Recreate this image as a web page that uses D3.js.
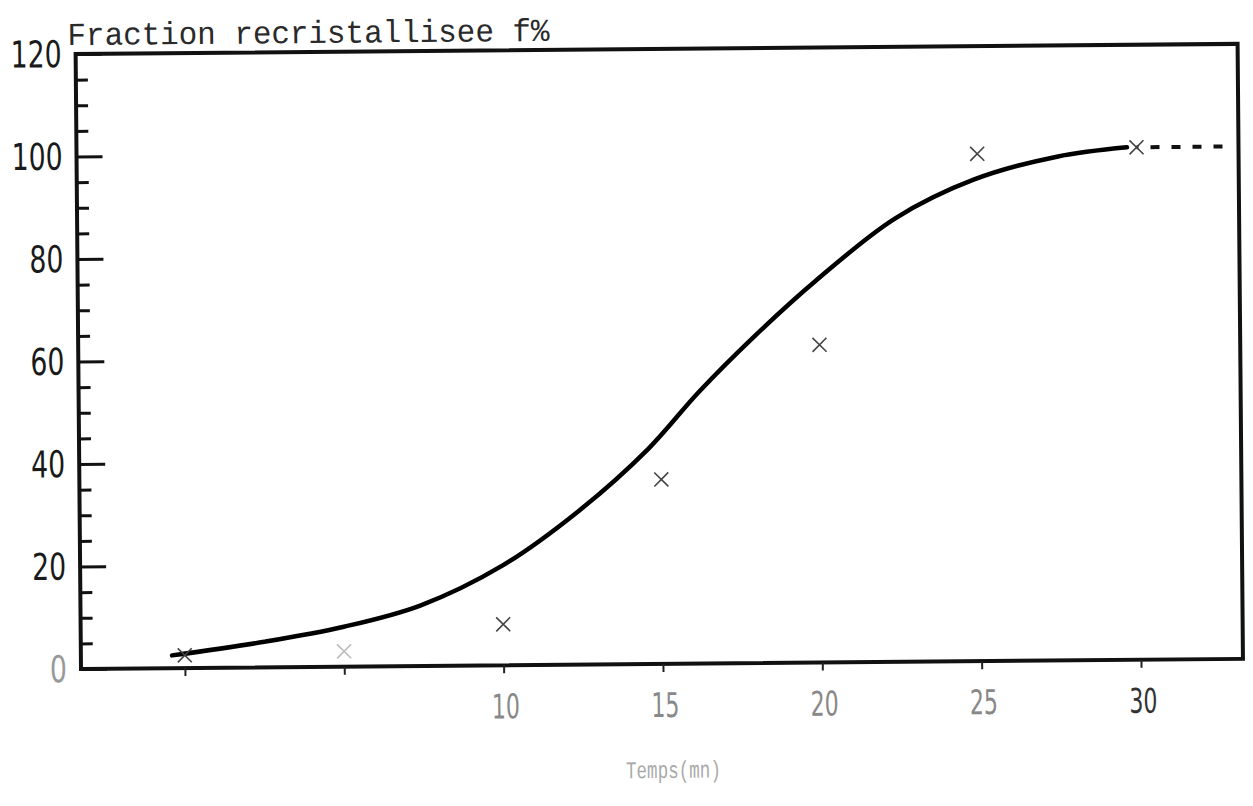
<!DOCTYPE html>
<html>
<head>
<meta charset="utf-8">
<script src="https://cdn.jsdelivr.net/npm/d3@7"></script>
<style>
  body { margin: 0; background: #fff; }
  .axis-label { font-family: "DejaVu Sans Condensed", "Liberation Sans", sans-serif; }
  .mono { font-family: "Liberation Mono", "DejaVu Sans Mono", monospace; }
</style>
</head>
<body>
<svg id="chart" width="1253" height="806"></svg>
<script>
// measured points (time in mn, recrystallised fraction in %)
var pointT = [0, 5, 10, 15, 20, 25, 30];
var pointF = [2.5, 3, 8, 36, 62, 99, 100];

// hand drawn fit curve
var curveT = [-0.4, 2.5, 5, 7.4, 10, 12.4, 14.6, 16.2, 18, 19.9, 22.4, 24.9, 27.5, 29.7];
var curveF = [2.5, 5, 7.8, 11.8, 19.5, 30, 42, 53, 64, 74.5, 86.5, 94, 98.3, 100];

// dashed plateau after the last point
var plateauT = [30, 33];
var plateauF = [100, 100];

var yTicks = [0, 20, 40, 60, 80, 100, 120];
var xTicks = [0, 5, 10, 15, 20, 25, 30];
var xLabels = [10, 15, 20, 25, 30];

var svg = d3.select('#chart');

var x = d3.scaleLinear().domain([-3.26, 33.2]).range([81, 1243]);
var y = d3.scaleLinear().domain([0, 120]).range([669, 54]);

// the scanned sheet is a little tilted
var g = svg.append('g').attr('transform', 'rotate(-0.5, 81, 669)');

//frame
g.append('rect')
    .attr('x', x.range()[0])
    .attr('y', y.range()[1])
    .attr('width', x.range()[1] - x.range()[0])
    .attr('height', y.range()[0] - y.range()[1])
    .attr('fill', 'none')
    .attr('stroke', '#111')
    .attr('stroke-width', 4);

//y axis: ticks inside, minor every 5
var yAxis = d3.axisRight(y)
    .tickValues(d3.range(0, 121, 5))
    .tickSize(12)
    .tickFormat('');
g.append('g')
    .attr('transform', 'translate(' + x.range()[0] + ',0)')
    .call(yAxis)
    .call(function(ax) {
        ax.select('.domain').remove();
        ax.selectAll('.tick line')
            .attr('stroke', '#111')
            .attr('stroke-width', 3)
            .attr('x2', function(d) { return d % 20 === 0 ? 26 : 12; });
    });

g.append('g')
    .selectAll('text')
    .data(yTicks)
    .join('text')
    .attr('class', 'axis-label')
    .attr('x', 67)
    .attr('y', function(d) { return y(d) + 13; })
    .attr('text-anchor', 'end')
    .attr('font-size', 37)
    .attr('textLength', function(d) { return String(d).length * 17; })
    .attr('lengthAdjust', 'spacingAndGlyphs')
    .attr('fill', function(d) { return d === 0 ? '#999' : '#1a1a1a'; })
    .text(function(d) { return d; });

//x axis: small ticks below
var xAxis = d3.axisBottom(x)
    .tickValues(xTicks)
    .tickSize(8)
    .tickFormat('');
g.append('g')
    .attr('transform', 'translate(0,' + y.range()[0] + ')')
    .call(xAxis)
    .call(function(ax) {
        ax.select('.domain').remove();
        ax.selectAll('.tick line').attr('stroke', '#222').attr('stroke-width', 2);
    });

g.append('g')
    .selectAll('text')
    .data(xLabels)
    .join('text')
    .attr('class', 'axis-label')
    .attr('x', function(d) { return x(d) - 12; })
    .attr('y', 722)
    .attr('font-size', 34)
    .attr('textLength', 28)
    .attr('lengthAdjust', 'spacingAndGlyphs')
    .attr('fill', function(d) { return d === 30 ? '#333' : '#888'; })
    .text(function(d) { return d; });

//titles
g.append('text')
    .attr('class', 'mono')
    .attr('x', 73)
    .attr('y', 45)
    .attr('font-size', 32)
    .attr('textLength', 482)
    .attr('lengthAdjust', 'spacingAndGlyphs')
    .attr('fill', '#2a2a2a')
    .text('Fraction recristallisee f%');

g.append('text')
    .attr('class', 'mono')
    .attr('x', 625)
    .attr('y', 783)
    .attr('font-size', 24)
    .attr('textLength', 95)
    .attr('lengthAdjust', 'spacingAndGlyphs')
    .attr('fill', '#aaa')
    .text('Temps(mn)');

//curve
var line = d3.line()
    .x(function(d) { return x(d[0]); })
    .y(function(d) { return y(d[1]); })
    .curve(d3.curveCatmullRom.alpha(0.5));

g.append('path')
    .datum(d3.zip(curveT, curveF))
    .attr('fill', 'none')
    .attr('stroke', '#000')
    .attr('stroke-width', 4.5)
    .attr('stroke-linecap', 'round')
    .attr('d', line);

g.append('path')
    .datum(d3.zip(plateauT, plateauF))
    .attr('fill', 'none')
    .attr('stroke', '#111')
    .attr('stroke-width', 4)
    .attr('stroke-dasharray', '9,12')
    .attr('stroke-dashoffset', -14)
    .attr('d', line);

//crosses
var s = 7;
g.append('g')
    .selectAll('path')
    .data(d3.zip(pointT, pointF))
    .join('path')
    .attr('fill', 'none')
    .attr('stroke', function(d) { return d[0] === 5 ? '#bbb' : '#444'; })
    .attr('stroke-width', 1.6)
    .attr('d', function(d) {
        var cx = x(d[0]), cy = y(d[1]);
        return 'M' + (cx - s) + ',' + (cy - s) + 'L' + (cx + s) + ',' + (cy + s) +
               'M' + (cx + s) + ',' + (cy - s) + 'L' + (cx - s) + ',' + (cy + s);
    });
</script>
</body>
</html>
